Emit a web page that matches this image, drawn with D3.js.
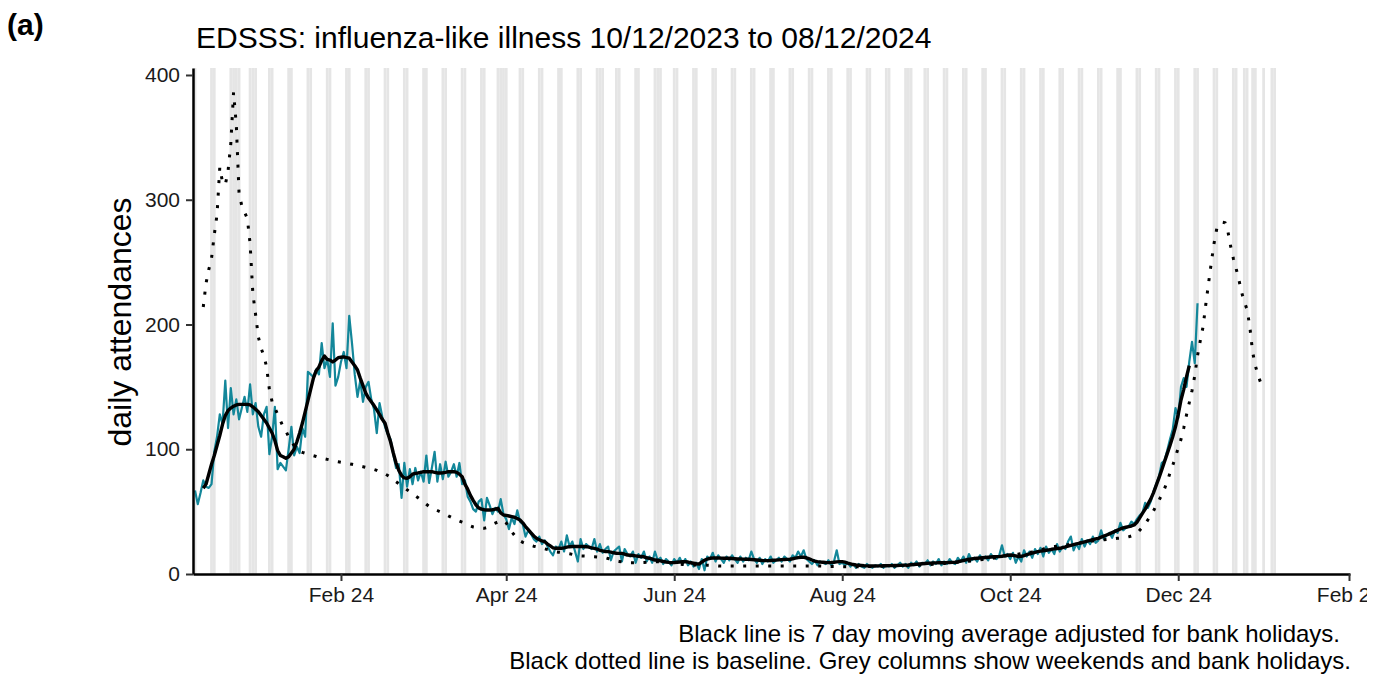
<!DOCTYPE html>
<html>
<head>
<meta charset="utf-8">
<script src="https://cdn.jsdelivr.net/npm/d3@7"></script>
<style>
  body { margin: 0; background: #fff; }
  svg { display: block; font-family: "Liberation Sans", Arial, sans-serif; }
</style>
</head>
<body>
<div id="chart"></div>
<script>
// ---- data ----
var startDay = '2023-12-10';   // first daily value

// daily attendances, 10/12/2023 .. 08/12/2024 (rows are Sun..Sat)
var dailyCounts = [
  67, 56, 65, 75, 70, 69, 72,
  98, 110, 128, 120, 155, 117, 149,
  128, 140, 124, 133, 142, 130, 152,
  128, 137, 118, 110, 128, 134, 96,
  110, 134, 84, 89, 86, 83, 100,
  118, 95, 102, 97, 117, 110, 162,
  160, 158, 164, 160, 185, 165, 172,
  158, 201, 151, 158, 170, 178, 165,
  207, 185, 160, 142, 155, 138, 150,
  154, 140, 132, 113, 137, 126, 118,
  112, 108, 96, 85, 88, 61, 89,
  70, 84, 72, 85, 75, 82, 74,
  95, 73, 85, 98, 74, 88, 76,
  90, 78, 82, 88, 78, 89, 72,
  75, 62, 58, 52, 50, 58, 60,
  43, 61, 55, 48, 53, 50, 60,
  48, 44, 36, 45, 40, 51, 42,
  40, 30, 35, 32, 28, 26, 30,
  24, 27, 22, 18, 15, 22, 20,
  26, 18, 31, 22, 26, 18, 10,
  28, 20, 24, 22, 20, 28, 18,
  24, 17, 20, 22, 11, 18, 20,
  22, 10, 20, 16, 14, 18, 9,
  16, 13, 18, 10, 14, 9, 18,
  11, 13, 8, 12, 10, 7, 12,
  9, 13, 8, 12, 7, 10, 6,
  9, 4, 12, 3, 14, 12, 17,
  10, 15, 12, 9, 14, 11, 15,
  12, 9, 14, 10, 13, 11, 18,
  12, 9, 13, 8, 12, 10, 14,
  9, 11, 13, 10, 14, 12, 10,
  15, 13, 18, 14, 19, 12, 10,
  8, 11, 7, 10, 9, 8, 11,
  7, 10, 19, 8, 9, 7, 9,
  6, 8, 5, 8, 6, 5, 8,
  6, 5, 7, 6, 8, 5, 7,
  6, 8, 5, 7, 9, 6, 8,
  5, 9, 7, 10, 6, 9, 8,
  11, 7, 10, 8, 12, 7, 10,
  8, 12, 9, 8, 13, 10, 14,
  9, 16, 11, 13, 10, 15, 12,
  14, 11, 16, 13, 12, 15, 23,
  14, 16, 12, 17, 9, 14, 10,
  19, 14, 18, 13, 20, 16, 21,
  14, 22, 17, 20, 16, 24, 18,
  22, 20, 26, 30, 19, 24, 20,
  28, 22, 27, 24, 30, 25, 27,
  35, 28, 31, 33, 29, 35, 33,
  41, 35, 37, 38, 42, 40, 44,
  47, 49, 57, 53, 58, 66, 72,
  78, 89, 91, 99, 108, 116, 133,
  125, 150, 157, 150, 170, 186, 169,
  217
];

// 7 day moving average, starts 3 days after startDay
var maOffset = 3;
var movingAverage = [
  68.7, 72, 80, 88, 95, 103, 111,
  120, 127, 131, 133, 134.5, 135.5, 136,
  136, 136, 136, 135.5, 134, 132, 130,
  127, 124, 121, 117, 113, 107, 99,
  95, 94, 92.7, 94, 97, 100, 106,
  113, 121, 130, 139, 148, 157, 163,
  166, 171, 174.7, 172, 171.5, 170, 171.5,
  173.4, 173.7, 174, 173.5, 173, 170, 167,
  163.5, 157, 151, 145, 141, 138, 135,
  131.5, 128, 124, 120.8, 113, 106, 97,
  89, 83, 79, 77, 76.7, 78, 80,
  80.7, 81, 81.5, 82, 82, 82, 82,
  81.5, 81, 81, 81.2, 81.5, 82, 82,
  82, 81.5, 80, 78, 72, 68, 63,
  59, 55.5, 53, 52, 51.5, 51.3, 51.3,
  51.5, 52, 52.7, 49, 47.3, 47, 46.5,
  46, 45.5, 44.5, 43.3, 41, 38, 35.5,
  33, 30.5, 28.6, 27.5, 26.5, 25.9, 24,
  22.5, 21, 20.6, 20.6, 20.6, 21, 21.5,
  21.9, 22, 22, 22, 22, 22, 21.9,
  21.5, 21, 20.6, 20, 19, 18.5, 18,
  17.9, 17.5, 17, 16.6, 16.5, 16.5, 16,
  15.2, 15, 14.8, 14.5, 14.2, 14, 13.8,
  13, 12.5, 12, 11.2, 11, 10.5, 10,
  9.6, 9.3, 9.1, 9.2, 9.4, 9.6, 9.8,
  9.9, 9.6, 9, 8.6, 8.2, 8, 9.5,
  11, 12, 12.6, 12.8, 12.8, 12.8, 12.7,
  12.6, 12.6, 12.6, 12.4, 12.2, 12, 12,
  11.9, 11.8, 11.8, 11.6, 11.4, 11.2, 11,
  10.8, 10.7, 10.7, 10.8, 11, 11.1, 11.3,
  11.5, 11.6, 11.7, 11.8, 12.2, 12.7, 13.1,
  13.4, 13.4, 13, 12.2, 11.2, 10.3, 9.9,
  9.6, 9.4, 9.2, 9.1, 9.2, 9.4, 9.7,
  9.9, 9.9, 9.5, 8.8, 8.2, 7.6, 7.2,
  7, 6.8, 6.6, 6.5, 6.4, 6.4, 6.4,
  6.5, 6.5, 6.6, 6.6, 6.7, 6.7, 6.8,
  6.8, 6.9, 7, 7.1, 7.2, 7.4, 7.6,
  7.8, 8, 8.2, 8.4, 8.6, 8.7, 8.8,
  8.9, 9, 9, 9.1, 9.1, 9.2, 9.3,
  9.4, 9.8, 10.3, 10.8, 11.3, 11.8, 12.1,
  12.4, 12.6, 12.8, 13, 13.2, 13.4, 13.6,
  13.8, 13.9, 13.9, 14.2, 14.6, 15, 15.2,
  15, 14.5, 14, 14.2, 14.8, 15.5, 16.2,
  16.8, 17.4, 17.9, 18.3, 18.6, 19, 19.4,
  19.8, 20.1, 20.4, 20.6, 21.2, 21.7, 22.3,
  22.9, 23.5, 24.1, 24.6, 25.2, 25.8, 26.4,
  27, 27.6, 28.1, 28.6, 29.5, 30.4, 31.3,
  32.2, 33.2, 34.2, 35.2, 36.1, 36.9, 37.5,
  38, 38.5, 39.3, 41.5, 45, 48.6, 52,
  56, 60, 65, 71, 77, 83.4, 90,
  96.5, 103, 110, 118, 128, 139.5, 148,
  158, 167
];

// baseline, starts 3 days after startDay and runs into January 2025
var baseOffset = 3;
var baseline = [
  214, 233, 244, 253, 272, 288, 326,
  314, 312, 323, 345, 386, 360, 305,
  295, 290, 285, 265, 225, 208, 190,
  181, 175, 166, 148, 138, 133, 128,
  123, 118, 114.6, 110, 106, 103, 100.5,
  98.5, 97.5, 96.8, 96.2, 95.4, 94.8, 94.2,
  93.5, 93, 92.4, 91.9, 91.4, 90.9, 90.4,
  90, 89.6, 89.2, 88.8, 88.3, 87.9, 87.4,
  87, 86.5, 86, 85.5, 85, 84.4, 83.8,
  83.1, 82.1, 81.2, 80.2, 79, 77.5, 75.8,
  74, 72.4, 70.7, 69, 67.5, 65.9, 64.3,
  62.7, 61.1, 59.4, 57.6, 55.9, 54.2, 53,
  51.9, 50.9, 49.9, 48.9, 47.8, 46.6, 45.5,
  44.4, 43.4, 42.4, 41.5, 40.6, 39.6, 38.6,
  37.7, 37.3, 37, 36.8, 36.6, 37.2, 38.5,
  39.8, 40.8, 41.7, 42.5, 43.2, 41, 37,
  34, 31, 28.3, 26.6, 25.4, 24.4, 23.5,
  22.9, 22.3, 21.8, 21.3, 20.8, 20.2, 19.6,
  19, 18.3, 17.8, 17.5, 17.2, 16.9, 16.6,
  16.2, 15.7, 15.2, 14.8, 14.5, 14.4, 14.3,
  14.2, 14, 13.9, 13.7, 13.5, 13.3, 13,
  12.4, 11.7, 11, 10.5, 10.1, 9.7, 9.4,
  9.2, 9.1, 9.1, 9.1, 9.2, 9.2, 9.3,
  9.5, 9.7, 9.8, 9.9, 9.8, 9.7, 9.5,
  9.4, 9.2, 8.8, 8.4, 8, 7.8, 7.7,
  7.5, 7.4, 7.3, 7.2, 7.2, 7.2, 7.2,
  7.2, 7.1, 7, 6.8, 6.6, 6.4, 6.4,
  6.4, 6.4, 6.4, 6.4, 6.4, 6.4, 6.4,
  6.4, 6.4, 6.4, 6.4, 6.4, 6.4, 6.4,
  6.4, 6.4, 6.4, 6.4, 6.4, 6.4, 6.4,
  6.4, 6.4, 6.4, 6.4, 6.4, 6.4, 6.4,
  6.4, 6.4, 6.4, 6.4, 6.4, 6.4, 6.4,
  6.4, 6.3, 6.2, 6.1, 6, 6, 5.9,
  5.9, 5.9, 5.9, 5.9, 5.9, 5.9, 5.9,
  5.9, 5.9, 6, 6, 6, 6.1, 6.1,
  6.2, 6.2, 6.3, 6.3, 6.4, 6.4, 6.5,
  6.5, 6.6, 6.6, 6.7, 6.8, 6.9, 7,
  7.1, 7.2, 7.3, 7.4, 7.6, 7.7, 7.8,
  7.9, 8, 8.2, 8.4, 8.6, 8.8, 9,
  9.2, 9.4, 9.6, 9.8, 10, 10.2, 10.4,
  10.7, 11, 11.3, 11.6, 11.9, 12.2, 12.5,
  12.8, 13.2, 13.6, 14, 14.4, 14.8, 15.2,
  15.5, 15.8, 16, 16.3, 16.6, 16.9, 17.3,
  17.7, 18, 18.4, 19.2, 20, 20.8, 21.5,
  21.8, 22, 22.3, 22.5, 22.7, 23.1, 23.5,
  23.9, 24.3, 24.6, 24.9, 25.3, 25.6, 25.9,
  26.2, 26.5, 26.8, 27.1, 27.3, 27.5, 27.7,
  27.9, 28.1, 28.3, 28.6, 28.8, 29, 29.3,
  29.8, 30.5, 31.4, 32.5, 35, 37.5, 40,
  43.5, 47, 50.5, 55, 59, 63.5, 68.3,
  74, 81, 87, 94, 101, 108, 117,
  127.5, 137.3, 147, 159, 175, 187, 198,
  216, 233, 249.5, 265, 277, 281, 282,
  281.6, 275, 263, 253, 245, 236, 226,
  218, 212, 198, 178, 167, 159, 153,
  151
];

// grey columns: weekends over this span plus these bank holidays
var columnsFrom = '2023-12-09';
var columnsTo = '2025-01-05';
var bankHolidays = ['2023-12-25', '2023-12-26', '2024-01-01', '2024-03-29', '2024-04-01',
  '2024-05-06', '2024-05-27', '2024-08-26', '2024-12-25', '2024-12-26', '2025-01-01'];

var xTicks = ['2024-02-01', '2024-04-01', '2024-06-01', '2024-08-01', '2024-10-01', '2024-12-01', '2025-02-01'];
var yTicks = [0, 100, 200, 300, 400];

var titleText = 'EDSSS: influenza-like illness 10/12/2023 to 08/12/2024';
var yTitle = 'daily attendances';
var captionLines = ['Black line is 7 day moving average adjusted for bank holidays.',
  'Black dotted line is baseline. Grey columns show weekends and bank holidays.'];

// ---- chart ----
var W = 1387, H = 675;
var plot = { left: 193, right: 1350, top: 68, bottom: 574 };

var day0 = new Date(startDay);
var lastTick = new Date('2025-02-01');
var pxPerDay = (plot.right - plot.left - 3) / 419;   // axis runs a little past both ends
var dayMs = 864e5;

var x = d3.scaleUtc()
    .domain([new Date(+day0 - 2 / pxPerDay * dayMs), new Date(+lastTick + 1 / pxPerDay * dayMs)])
    .range([plot.left, plot.right]);

var y = d3.scaleLinear()
    .domain([0, 405.6])
    .range([plot.bottom, plot.top]);

var svg = d3.select('#chart').append('svg')
    .attr('width', W)
    .attr('height', H);

var defs = svg.append('defs');
defs.append('clipPath')
    .attr('id', 'panel')
    .append('rect')
    .attr('x', plot.left).attr('y', plot.top)
    .attr('width', plot.right - plot.left).attr('height', plot.bottom - plot.top);

// the last x label is cut short, as in the original figure
defs.append('clipPath')
    .attr('id', 'xlabels')
    .append('rect')
    .attr('x', 0).attr('y', -5).attr('width', 1367).attr('height', 60);

// weekend / bank holiday columns
var hol = new Set(bankHolidays);
var greyDays = d3.utcDay.range(new Date(columnsFrom), d3.utcDay.offset(new Date(columnsTo), 1))
    .filter(function (d) {
        var wd = d.getUTCDay();
        return wd === 0 || wd === 6 || hol.has(d3.utcFormat('%Y-%m-%d')(d));
    });

svg.append('g')
    .attr('clip-path', 'url(#panel)')
    .selectAll('rect')
    .data(greyDays)
    .join('rect')
    .attr('x', function (d) { return x(d) - pxPerDay / 2; })
    .attr('y', plot.top)
    .attr('width', pxPerDay)
    .attr('height', plot.bottom - plot.top)
    .style('fill', '#e5e5e5');

function series(values, offset) {
    return values.map(function (v, i) { return { date: d3.utcDay.offset(day0, i + offset), value: v }; });
}

var line = d3.line()
    .x(function (d) { return x(d.date); })
    .y(function (d) { return y(d.value); });

var lines = svg.append('g').attr('clip-path', 'url(#panel)');

lines.append('path')
    .datum(series(dailyCounts, 0))
    .attr('d', line)
    .style('fill', 'none')
    .style('stroke', '#13879a')
    .style('stroke-width', 2.2)
    .style('stroke-linejoin', 'round');

lines.append('path')
    .datum(series(movingAverage, maOffset))
    .attr('d', line)
    .style('fill', 'none')
    .style('stroke', '#000')
    .style('stroke-width', 3.4)
    .style('stroke-linejoin', 'round');

lines.append('path')
    .datum(series(baseline, baseOffset))
    .attr('d', line)
    .style('fill', 'none')
    .style('stroke', '#000')
    .style('stroke-width', 3)
    .style('stroke-dasharray', '3,9.5');

// axes
var xAxis = d3.axisBottom(x)
    .tickValues(xTicks.map(function (d) { return new Date(d); }))
    .tickFormat(d3.utcFormat('%b %y'))
    .tickSize(7)
    .tickSizeOuter(0)
    .tickPadding(6);

var gx = svg.append('g')
    .attr('transform', 'translate(0,' + plot.bottom + ')')
    .attr('clip-path', 'url(#xlabels)')
    .call(xAxis);
gx.select('.domain').style('stroke', '#000').style('stroke-width', 2.5);
gx.selectAll('.tick line').style('stroke', '#333').style('stroke-width', 2);
gx.selectAll('.tick text')
    .style('font-size', '21px')
    .style('fill', '#1a1a1a');

var yAxis = d3.axisLeft(y)
    .tickValues(yTicks)
    .tickSize(7)
    .tickSizeOuter(0)
    .tickPadding(6);

var gy = svg.append('g')
    .attr('transform', 'translate(' + plot.left + ',0)')
    .call(yAxis);
gy.select('.domain').style('stroke', '#000').style('stroke-width', 2.5);
gy.selectAll('.tick line').style('stroke', '#333').style('stroke-width', 2);
gy.selectAll('.tick text')
    .style('font-size', '21px')
    .style('fill', '#1a1a1a');

// texts
svg.append('text')
    .attr('x', 7).attr('y', 35)
    .style('font-size', '30px')
    .style('font-weight', 'bold')
    .text('(a)');

svg.append('text')
    .attr('x', 196).attr('y', 48)
    .style('font-size', '30px')
    .text(titleText);

svg.append('text')
    .attr('transform', 'translate(131,322) rotate(-90)')
    .style('text-anchor', 'middle')
    .style('font-size', '32px')
    .text(yTitle);

svg.selectAll('.caption')
    .data(captionLines)
    .join('text')
    .attr('class', 'caption')
    .attr('x', function (d, i) { return i === 0 ? 1340 : 1351; })
    .attr('y', function (d, i) { return 642 + i * 27; })
    .style('text-anchor', 'end')
    .style('font-size', '24px')
    .text(function (d) { return d; });
</script>
</body>
</html>
